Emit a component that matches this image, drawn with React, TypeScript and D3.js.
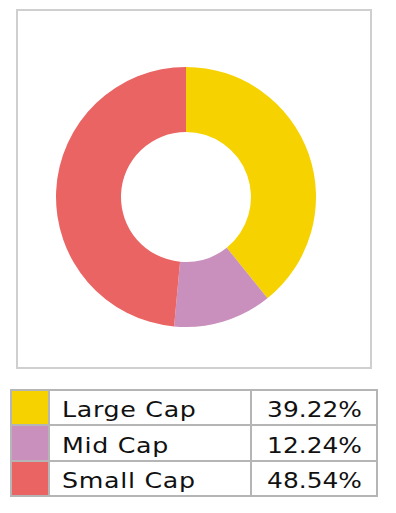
import React from "react";
import * as d3 from "d3";

const categories = ["Large Cap", "Mid Cap", "Small Cap"];
const values = [39.22, 12.24, 48.54];
const valueLabels = ["39.22%", "12.24%", "48.54%"];
const colors = ["#F6D200", "#C98FBD", "#EB6464"];

export default function App() {
  const W = 396, H = 513;
  const cx = 186, cy = 197, outerR = 130, innerR = 65;
  const pie = d3.pie<number>().sort(null).value((d) => d);
  const arcs = pie(values);
  const arc = d3.arc<d3.PieArcDatum<number>>().innerRadius(innerR).outerRadius(outerR);

  const tableX = 11, tableY = 390, colW = 38, labelColEnd = 251, tableR = 377;
  const rowH = [0, 35, 71, 106];
  const font = "'DejaVu Sans', sans-serif";

  return (
    <svg width={W} height={H} style={{ position: "absolute", left: 0, top: 0 }}>
      <rect x={0} y={0} width={W} height={H} fill="#fff" />
      <rect x={17} y={10} width={354} height={358} fill="#fff" stroke="#cfcfcf" strokeWidth={2} />
      <g transform={`translate(${cx},${cy})`}>
        {arcs.map((a, i) => (
          <path key={i} d={arc(a) || ""} fill={colors[i]} />
        ))}
      </g>
      <g>
        {categories.map((c, i) => {
          const y0 = tableY + rowH[i];
          const y1 = tableY + rowH[i + 1];
          const mid = (y0 + y1) / 2;
          return (
            <g key={c}>
              <rect x={tableX} y={y0} width={colW} height={y1 - y0} fill={colors[i]} />
              <text transform={`translate(62,${mid + 9.5}) scale(1.15,1)`} fontFamily={font} fontSize={22} fill="#111" letterSpacing={0.6}>
                {c}
              </text>
              <text transform={`translate(${(labelColEnd + tableR) / 2 + 0.5},${mid + 9.5}) scale(1.13,1)`} fontFamily={font} fontSize={22} fill="#111" textAnchor="middle">
                {valueLabels[i]}
              </text>
            </g>
          );
        })}
        <rect x={tableX} y={tableY} width={tableR - tableX} height={rowH[3]} fill="none" stroke="#b5b5b5" strokeWidth={2} />
        {[1, 2].map((k) => (
          <line key={k} x1={tableX} x2={tableR} y1={tableY + rowH[k]} y2={tableY + rowH[k]} stroke="#b5b5b5" strokeWidth={2} />
        ))}
        <line x1={tableX + colW} x2={tableX + colW} y1={tableY} y2={tableY + rowH[3]} stroke="#b5b5b5" strokeWidth={2} />
        <line x1={labelColEnd} x2={labelColEnd} y1={tableY} y2={tableY + rowH[3]} stroke="#b5b5b5" strokeWidth={2} />
      </g>
    </svg>
  );
}
